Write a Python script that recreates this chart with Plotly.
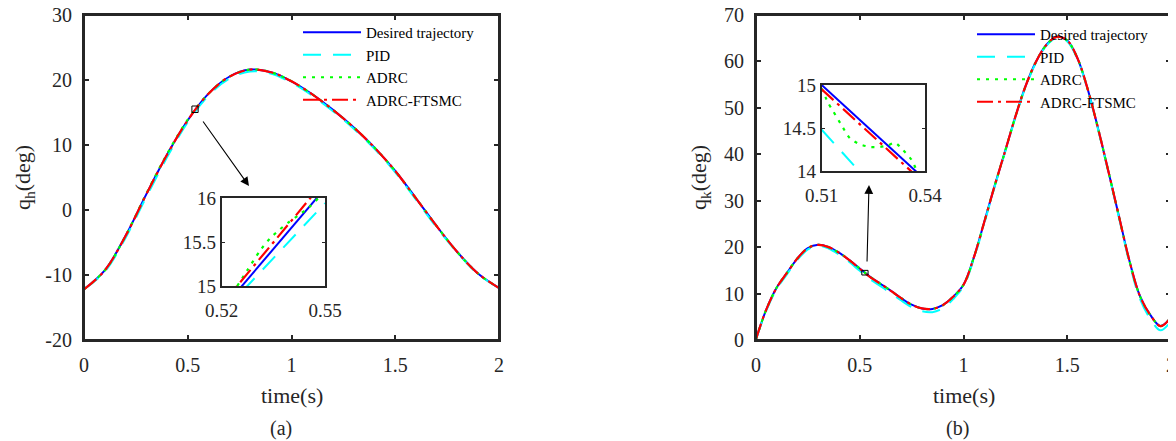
import plotly.graph_objects as go

# the page adds an 8 px body margin: positions are shifted back by it
OFF = 8
W, H = 1176, 441

# ---------------- data ----------------
series_names = ["Desired trajectory", "PID", "ADRC", "ADRC-FTSMC"]

# (a) hip joint, main plot
t_a = [0.0, 0.1, 0.2, 0.3, 0.4, 0.5, 0.6, 0.7, 0.8, 0.9, 1.0,
       1.1, 1.2, 1.3, 1.4, 1.5, 1.6, 1.7, 1.8, 1.9, 2.0]
qh_desired = [-12.2, -9.3, -4.0, 2.4, 8.5, 13.8, 17.9, 20.5, 21.6, 21.2, 19.8,
              17.8, 15.4, 12.7, 9.6, 6.0, 1.8, -2.5, -6.5, -9.8, -12.0]
qh_pid = [-12.2, -9.5, -4.3, 2.0, 8.1, 13.5, 17.6, 20.2, 21.3, 21.0, 19.6,
          17.6, 15.2, 12.5, 9.4, 5.8, 1.6, -2.7, -6.6, -9.9, -12.0]
qh_adrc = [-12.2, -9.3, -4.0, 2.5, 8.6, 13.9, 17.9, 20.5, 21.6, 21.2, 19.8,
           17.8, 15.4, 12.7, 9.6, 6.0, 1.8, -2.5, -6.5, -9.8, -12.0]
qh_ftsmc = [-12.2, -9.3, -4.0, 2.4, 8.5, 13.8, 17.9, 20.5, 21.6, 21.2, 19.8,
            17.8, 15.4, 12.7, 9.6, 6.0, 1.8, -2.5, -6.5, -9.8, -12.0]

# (b) knee joint, main plot
t_b = [0.0, 0.05, 0.1, 0.15, 0.2, 0.25, 0.3, 0.35, 0.4, 0.45, 0.5,
       0.55, 0.6, 0.65, 0.7, 0.75, 0.8, 0.85, 0.9, 0.95, 1.0,
       1.05, 1.1, 1.15, 1.2, 1.25, 1.3, 1.35, 1.4, 1.45, 1.5,
       1.55, 1.6, 1.65, 1.7, 1.75, 1.8, 1.85, 1.9, 1.95, 2.0]
qk_desired = [0.2, 6.6, 11.3, 14.5, 17.6, 19.8, 20.5, 20.0, 18.8, 17.2, 15.4,
              13.6, 12.1, 10.6, 9.0, 7.6, 6.8, 6.7, 7.5, 9.3, 11.9,
              17.8, 25.4, 33.2, 40.6, 48.1, 54.8, 60.0, 63.6, 65.3, 64.5,
              60.6, 53.8, 45.3, 36.0, 26.5, 17.0, 9.5, 5.4, 3.0, 4.9]
qk_pid = [0.2, 6.4, 11.0, 14.2, 17.3, 19.5, 20.3, 19.7, 18.4, 16.8, 14.9,
          13.1, 11.6, 10.1, 8.5, 7.1, 6.2, 6.0, 6.8, 8.8, 11.6,
          17.5, 25.1, 33.0, 40.4, 47.9, 54.6, 59.8, 63.4, 65.1, 64.3,
          60.4, 53.6, 45.1, 35.8, 26.2, 16.6, 8.9, 4.6, 2.1, 4.1]
qk_adrc = [0.2, 6.6, 11.3, 14.5, 17.6, 19.8, 20.5, 20.0, 18.8, 17.2, 15.4,
           13.6, 12.1, 10.6, 9.0, 7.6, 6.8, 6.7, 7.5, 9.3, 11.9,
           17.8, 25.4, 33.2, 40.6, 48.1, 54.8, 60.0, 63.6, 65.3, 64.5,
           60.6, 53.8, 45.3, 36.0, 26.5, 17.0, 9.5, 5.4, 3.0, 4.9]
qk_ftsmc = [0.2, 6.6, 11.3, 14.5, 17.6, 19.8, 20.5, 20.0, 18.8, 17.2, 15.35,
            13.55, 12.1, 10.6, 9.0, 7.6, 6.8, 6.7, 7.5, 9.3, 11.9,
            17.8, 25.4, 33.2, 40.6, 48.1, 54.8, 60.0, 63.6, 65.3, 64.5,
            60.6, 53.8, 45.3, 36.0, 26.5, 17.0, 9.5, 5.4, 3.0, 4.9]

# (a) inset: t 0.52-0.55, q 15-16
ia_xrange = [0.52, 0.55]
ia_yrange = [15.0, 16.0]
ia_xticks = [0.52, 0.55]
ia_yticks = [15, 15.5, 16]
ia_t_desired = [0.52, 0.55]
ia_q_desired = [14.73, 16.11]
ia_t_pid = [0.52, 0.55]
ia_q_pid = [14.69, 15.94]
ia_t_adrc = [0.5245, 0.5273, 0.5311, 0.534, 0.5368, 0.5393, 0.5422, 0.5455, 0.5481, 0.55]
ia_q_adrc = [15.0, 15.17, 15.40, 15.54, 15.64, 15.72, 15.80, 15.90, 16.0, 16.08]
ia_t_ftsmc = [0.52, 0.55]
ia_q_ftsmc = [14.79, 16.2]

# (b) inset: t 0.51-0.54, q 14-15
ib_xrange = [0.51, 0.54]
ib_yrange = [14.0, 15.0]
ib_xticks = [0.51, 0.54]
ib_yticks = [14, 14.5, 15]
ib_t_desired = [0.51, 0.54]
ib_q_desired = [15.0, 13.9]
ib_t_pid = [0.51, 0.5231]
ib_q_pid = [14.48, 13.9]
ib_t_adrc = [0.51, 0.5119, 0.5134, 0.5158, 0.5182, 0.5211, 0.524, 0.5269, 0.5293,
             0.5313, 0.5337, 0.5361, 0.5376, 0.54]
ib_q_adrc = [14.96, 14.79, 14.69, 14.53, 14.38, 14.31, 14.28, 14.28, 14.30,
             14.33, 14.24, 14.13, 14.01, 13.9]
ib_t_ftsmc = [0.51, 0.54]
ib_q_ftsmc = [14.95, 13.85]

x_ticks = [0, 0.5, 1, 1.5, 2]
x_ticktext = ["0", "0.5", "1", "1.5", "2"]
ya_ticks = [-20, -10, 0, 10, 20, 30]
ya_ticktext = ["-20", "-10", "0", "10", "20", "30"]
yb_ticks = [0, 10, 20, 30, 40, 50, 60, 70]
yb_ticktext = ["0", "10", "20", "30", "40", "50", "60", "70"]

# ---------------- styles ----------------
colors = ["#0000FF", "#00FFFF", "#00FF00", "#FF0000"]
dashes = ["solid", "18px,12px", "3px,6px", "16px,5px,3px,5px"]
widths = [2, 2, 2.2, 2.2]
FONT = "Liberation Serif"
TXT = "#262626"


def px_x(p):
    return (p - OFF) / W


def px_y(p):
    return 1 - (p - OFF) / H


fig = go.Figure()

main_a = [qh_desired, qh_pid, qh_adrc, qh_ftsmc]
main_b = [qk_desired, qk_pid, qk_adrc, qk_ftsmc]
ins_a = [(ia_t_desired, ia_q_desired), (ia_t_pid, ia_q_pid),
         (ia_t_adrc, ia_q_adrc), (ia_t_ftsmc, ia_q_ftsmc)]
ins_b = [(ib_t_desired, ib_q_desired), (ib_t_pid, ib_q_pid),
         (ib_t_adrc, ib_q_adrc), (ib_t_ftsmc, ib_q_ftsmc)]

for i, name in enumerate(series_names):
    ln = dict(color=colors[i], width=widths[i], dash=dashes[i], shape="spline", smoothing=1)
    fig.add_trace(go.Scatter(x=t_a, y=main_a[i], mode="lines", name=name, line=ln,
                             xaxis="x", yaxis="y", legend="legend"))
for i, name in enumerate(series_names):
    ln = dict(color=colors[i], width=widths[i], dash=dashes[i], shape="spline", smoothing=1)
    fig.add_trace(go.Scatter(x=t_b, y=main_b[i], mode="lines", name=name, line=ln,
                             xaxis="x2", yaxis="y2", legend="legend2"))
for i, name in enumerate(series_names):
    ln = dict(color=colors[i], width=widths[i], dash=dashes[i], shape="spline", smoothing=0.6)
    fig.add_trace(go.Scatter(x=ins_a[i][0], y=ins_a[i][1], mode="lines", name=name, line=ln,
                             xaxis="x3", yaxis="y3", showlegend=False))
for i, name in enumerate(series_names):
    ln = dict(color=colors[i], width=widths[i], dash=dashes[i], shape="spline", smoothing=0.6)
    fig.add_trace(go.Scatter(x=ins_b[i][0], y=ins_b[i][1], mode="lines", name=name, line=ln,
                             xaxis="x4", yaxis="y4", showlegend=False))

axis_common = dict(showline=True, linecolor=TXT, linewidth=2, mirror="allticks",
                   ticks="inside", ticklen=5, tickwidth=1.5, tickcolor=TXT,
                   showgrid=False, zeroline=False, automargin=False,
                   ticklabeloverflow="allow",
                   tickfont=dict(family=FONT, size=20, color=TXT))
inset_common = dict(showline=True, linecolor=TXT, linewidth=1.6, mirror="allticks",
                    ticks="inside", ticklen=3, tickwidth=1, tickcolor=TXT,
                    showgrid=False, zeroline=False, automargin=False,
                    tickfont=dict(family=FONT, size=19, color=TXT))

fig.update_layout(
    template="none",
    width=W, height=H, autosize=False,
    margin=dict(l=0, r=0, t=0, b=0, pad=0),
    paper_bgcolor="white", plot_bgcolor="rgba(0,0,0,0)",
    xaxis=dict(domain=[px_x(84), px_x(499)], range=[0, 2], tickvals=x_ticks,
               ticktext=x_ticktext, anchor="y", ticklabelstandoff=6, **axis_common),
    yaxis=dict(domain=[px_y(340), px_y(15)], range=[-20, 30], tickvals=ya_ticks,
               ticktext=ya_ticktext, anchor="x", ticklabelstandoff=6, **axis_common),
    xaxis2=dict(domain=[px_x(756), px_x(1171)], range=[0, 2], tickvals=x_ticks,
                ticktext=x_ticktext, anchor="y2", ticklabelstandoff=6, **axis_common),
    yaxis2=dict(domain=[px_y(340), px_y(15)], range=[0, 70], tickvals=yb_ticks,
                ticktext=yb_ticktext, anchor="x2", ticklabelstandoff=6, **axis_common),
    xaxis3=dict(domain=[px_x(221.7), px_x(325)], range=ia_xrange, tickvals=ia_xticks,
                anchor="y3", ticklabelstandoff=6, **inset_common),
    yaxis3=dict(domain=[px_y(286), px_y(198)], range=ia_yrange, tickvals=ia_yticks,
                anchor="x3", ticklabelstandoff=0, **inset_common),
    xaxis4=dict(domain=[px_x(821.7), px_x(925)], range=ib_xrange, tickvals=ib_xticks,
                anchor="y4", ticklabelstandoff=6, **inset_common),
    yaxis4=dict(domain=[px_y(171), px_y(85)], range=ib_yrange, tickvals=ib_yticks,
                anchor="x4", ticklabelstandoff=0, **inset_common),
    legend=dict(x=px_x(298), y=px_y(16), xanchor="left", yanchor="top",
                bgcolor="rgba(0,0,0,0)", borderwidth=0, itemwidth=58,
                tracegroupgap=0, font=dict(family=FONT, size=15, color="black")),
    legend2=dict(x=px_x(972), y=px_y(18), xanchor="left", yanchor="top",
                 bgcolor="rgba(0,0,0,0)", borderwidth=0, itemwidth=58,
                 tracegroupgap=0, font=dict(family=FONT, size=15, color="black")),
)

# axes frames (paper-referenced, same place as the axis boxes)
for (x0, x1) in [(84, 499), (756, 1171)]:
    fig.add_shape(type="rect", xref="paper", yref="paper", layer="above",
                  x0=px_x(x0), x1=px_x(x1), y0=px_y(340), y1=px_y(15),
                  line=dict(color=TXT, width=2))

# zoom markers on the main plots (inset ranges)
fig.add_shape(type="rect", xref="x", yref="y", x0=ia_xrange[0], x1=ia_xrange[1],
              y0=ia_yrange[0], y1=ia_yrange[1], line=dict(color="black", width=1))
fig.add_shape(type="rect", xref="x2", yref="y2", x0=ib_xrange[0], x1=ib_xrange[1],
              y0=ib_yrange[0], y1=ib_yrange[1], line=dict(color="black", width=1))

# arrows
fig.add_annotation(xref="paper", yref="paper", x=px_x(249), y=px_y(186), text="",
                   showarrow=True, ax=-47, ay=-66, arrowhead=2, arrowsize=1.6,
                   arrowwidth=1.1, arrowcolor="black")
fig.add_annotation(xref="paper", yref="paper", x=px_x(869), y=px_y(185), text="",
                   showarrow=True, ax=-2, ay=78, arrowhead=2, arrowsize=1.6,
                   arrowwidth=1.1, arrowcolor="black")

# titles
title_font = dict(family=FONT, size=22, color=TXT)
label_font = dict(family=FONT, size=20, color=TXT)
centered = dict(xref="paper", yref="paper", showarrow=False, xanchor="center", yanchor="middle")
fig.add_annotation(x=px_x(291.5), y=px_y(395), text="time(s)", font=title_font, **centered)
fig.add_annotation(x=px_x(964), y=px_y(395), text="time(s)", font=title_font, **centered)
fig.add_annotation(x=px_x(24), y=px_y(178), text="q<sub>h</sub>(deg)", textangle=-90,
                   font=title_font, **centered)
fig.add_annotation(x=px_x(700), y=px_y(178), text="q<sub>k</sub>(deg)", textangle=-90,
                   font=title_font, **centered)
fig.add_annotation(x=px_x(281), y=px_y(428), text="(a)", font=label_font, **centered)
fig.add_annotation(x=px_x(957), y=px_y(428), text="(b)", font=label_font, **centered)

fig.write_html("out.html")
